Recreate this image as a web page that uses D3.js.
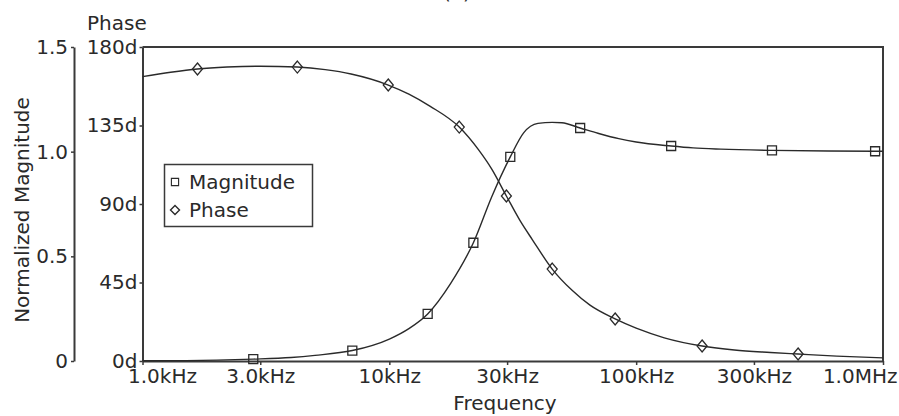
<!DOCTYPE html>
<html>
<head>
<meta charset="utf-8">
<script src="https://cdn.jsdelivr.net/npm/d3@7"></script>
<style>
  html, body { margin: 0; padding: 0; background: #fff; }
  svg { display: block; font-family: "DejaVu Sans", Verdana, sans-serif; }
</style>
</head>
<body>
<svg id="chart" width="899" height="416"></svg>
<script>
// Axis ticks and labels
const freqTicks = [1e3, 3e3, 1e4, 3e4, 1e5, 3e5, 1e6];
const freqTickLabels = ["1.0kHz", "3.0kHz", "10kHz", "30kHz", "100kHz", "300kHz", "1.0MHz"];
const magTicks = [0, 0.5, 1.0, 1.5];
const magTickLabels = ["0", "0.5", "1.0", "1.5"];
const phaseTicks = [0, 45, 90, 135, 180];
const phaseTickLabels = ["0d", "45d", "90d", "135d", "180d"];

// Normalized magnitude vs frequency (kHz)
const magFreqKHz = [1, 1.5, 2, 2.81, 4, 5, 7.08, 10, 12, 14.3, 17.7, 21.9, 26, 30.9, 35, 40, 45.7, 50, 59.3, 70, 85, 100, 138.6, 170, 220, 355, 600, 929, 1000];
const magValues  = [0.001, 0.002, 0.004, 0.009, 0.017, 0.027, 0.05, 0.105, 0.155, 0.225, 0.37, 0.565, 0.785, 0.975, 1.09, 1.135, 1.14, 1.138, 1.113, 1.088, 1.062, 1.046, 1.027, 1.018, 1.012, 1.006, 1.003, 1.002, 1.002];
const magMarkerKHz = [2.81, 7.08, 14.3, 21.9, 30.9, 59.3, 138.6, 355, 929];

// Phase (degrees) vs frequency (kHz)
const phaseFreqKHz = [1, 1.3, 1.67, 2.2, 3, 4.24, 5.5, 7, 9.9, 12, 14.65, 19.2, 23, 26, 29.8, 34, 38, 45.7, 55, 65, 82.2, 100, 130, 185, 250, 350, 453, 650, 1000];
const phaseValues  = [163, 165.5, 167.4, 168.5, 169, 168.5, 167, 164.5, 158.2, 153, 146, 134.1, 121, 110, 94.6, 80, 69.5, 52.7, 40.5, 32, 24.1, 18.8, 13.3, 8.6, 6.3, 4.9, 4.0, 2.8, 1.8];
const phaseMarkerKHz = [1.67, 4.24, 9.9, 19.2, 29.8, 45.7, 82.2, 185, 453];

const legendItems = ["Magnitude", "Phase"];

const svg = d3.select("#chart");
const ink = "#2a2a2a";
const axisInk = "#3a3a3a";
const fontSize = 20;

const plot = { left: 142.5, right: 883, top: 47, bottom: 361 };
const magAxisX = 74;

const x = d3.scaleLog().domain([1e3, 1e6]).range([plot.left, plot.right]);
const yMag = d3.scaleLinear().domain([0, 1.5]).range([plot.bottom, plot.top]);
const yPh = d3.scaleLinear().domain([0, 180]).range([plot.bottom, plot.top]);

// Title, mostly above the visible area
svg.append("text").attr("x", 457).attr("y", -1)
  .attr("text-anchor", "middle").attr("font-size", fontSize).attr("fill", ink)
  .text("(a)");

function styleAxis(g) {
  g.selectAll("path.domain").attr("stroke", axisInk).attr("stroke-width", 2);
  g.selectAll(".tick line").attr("stroke", axisInk).attr("stroke-width", 1.5);
  g.selectAll(".tick text").attr("fill", ink).attr("font-size", fontSize)
    .attr("font-family", "DejaVu Sans, Verdana, sans-serif");
}

// Magnitude axis
const magAxis = d3.axisLeft(yMag).tickValues(magTicks)
  .tickFormat((d, i) => magTickLabels[i]).tickSize(3).tickSizeOuter(0).tickPadding(3);
svg.append("g").attr("transform", `translate(${magAxisX},0)`).call(magAxis).call(styleAxis);

// Phase axis
const phAxis = d3.axisLeft(yPh).tickValues(phaseTicks)
  .tickFormat((d, i) => phaseTickLabels[i]).tickSize(3).tickSizeOuter(0).tickPadding(2);
svg.append("g").attr("transform", `translate(${plot.left},0)`).call(phAxis).call(styleAxis);

// Frequency axis
const xAxis = d3.axisBottom(x).tickValues(freqTicks)
  .tickFormat((d, i) => freqTickLabels[i]).tickSize(4).tickSizeOuter(0).tickPadding(4);
const gx = svg.append("g").attr("transform", `translate(0,${plot.bottom})`).call(xAxis).call(styleAxis);
// end labels are kept inside the figure edges
const xLabels = gx.selectAll(".tick text");
xLabels.filter((d, i) => i === 0).attr("text-anchor", "start").attr("x", -15);
xLabels.filter((d, i) => i === freqTicks.length - 1).attr("text-anchor", "end").attr("x", 14);

// Frame: top and right edges
svg.append("path")
  .attr("d", `M${plot.left},${plot.top}H${plot.right}V${plot.bottom}`)
  .attr("fill", "none").attr("stroke", axisInk).attr("stroke-width", 2);

// Axis titles
svg.append("text").attr("x", 87).attr("y", 30)
  .attr("font-size", fontSize).attr("fill", ink).text("Phase");
svg.append("text")
  .attr("transform", `translate(29,${(plot.top + plot.bottom) / 2 + 6}) rotate(-90)`)
  .attr("text-anchor", "middle").attr("font-size", fontSize).attr("fill", ink)
  .text("Normalized Magnitude");
svg.append("text").attr("x", 505).attr("y", 410)
  .attr("text-anchor", "middle").attr("font-size", fontSize).attr("fill", ink)
  .text("Frequency");

// Curves
const magData = magFreqKHz.map((f, i) => ({ f: f * 1e3, v: magValues[i] }));
const phData = phaseFreqKHz.map((f, i) => ({ f: f * 1e3, v: phaseValues[i] }));

const magLine = d3.line().x(d => x(d.f)).y(d => yMag(d.v)).curve(d3.curveMonotoneX);
const phLine = d3.line().x(d => x(d.f)).y(d => yPh(d.v)).curve(d3.curveMonotoneX);

svg.append("path").datum(magData).attr("d", magLine)
  .attr("fill", "none").attr("stroke", ink).attr("stroke-width", 1.4);
svg.append("path").datum(phData).attr("d", phLine)
  .attr("fill", "none").attr("stroke", ink).attr("stroke-width", 1.4);

// Marker shapes
const sq = 9;
const squarePath = `M${-sq/2},${-sq/2}h${sq}v${sq}h${-sq}Z`;
const dw = 5, dh = 6;
const diamondPath = `M0,${-dh}L${dw},0L0,${dh}L${-dw},0Z`;

const magMarkers = magData.filter(d => magMarkerKHz.includes(d.f / 1e3));
const phMarkers = phData.filter(d => phaseMarkerKHz.includes(d.f / 1e3));

svg.append("g").selectAll("path").data(magMarkers).join("path")
  .attr("d", squarePath)
  .attr("transform", d => `translate(${x(d.f)},${yMag(d.v)})`)
  .attr("fill", "none").attr("stroke", ink).attr("stroke-width", 1.3);
svg.append("g").selectAll("path").data(phMarkers).join("path")
  .attr("d", diamondPath)
  .attr("transform", d => `translate(${x(d.f)},${yPh(d.v)})`)
  .attr("fill", "none").attr("stroke", ink).attr("stroke-width", 1.3);

// Legend
const legend = svg.append("g");
legend.append("rect").attr("x", 164.5).attr("y", 164.5).attr("width", 148).attr("height", 62)
  .attr("fill", "#fff").attr("stroke", axisInk).attr("stroke-width", 1.5);
const legendShapes = [squarePath, `M0,-4.5L4.5,0L0,4.5L-4.5,0Z`];
const legendScaleSq = 0.8;
legendItems.forEach((name, i) => {
  const cy = 182 + i * 28;
  legend.append("path").attr("d", legendShapes[i])
    .attr("transform", `translate(175,${cy})${i === 0 ? ` scale(${legendScaleSq})` : ""}`)
    .attr("fill", "none").attr("stroke", ink).attr("stroke-width", 1.4);
  legend.append("text").attr("x", 189).attr("y", cy + 7)
    .attr("font-size", fontSize).attr("fill", ink).text(name);
});
</script>
</body>
</html>
